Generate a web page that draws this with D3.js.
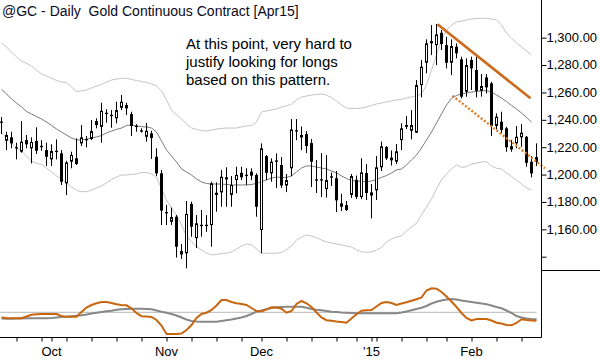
<!DOCTYPE html>
<html><head><meta charset="utf-8">
<script src="https://cdn.jsdelivr.net/npm/d3@7"></script>
<style>body{margin:0;background:#fff}svg{display:block}</style>
</head><body>
<svg id="chart" width="600" height="360"></svg>
<script>
// ---------- DATA ----------
const firstDay = "2014-09-17", lastDay = "2015-02-20";
const holidays = ["2014-11-27","2014-12-25","2015-01-01","2015-01-19","2015-02-16"];
const monthLabels = ["Oct","Nov","Dec","'15","Feb"];
const priceTicks = [1140,1160,1180,1200,1220,1240,1260,1280,1300];

const opens = [1238.6,1224.7,1227.2,1219.9,1216.7,1225.2,1219.2,1224.5,1220.8,1217.9,
1211.1,1217.6,1215.5,1193.6,1209.4,1211.9,1222.8,1226.0,1226.0,1239.1,
1234.9,1245.0,1243.5,1241.1,1248.8,1250.8,1244.2,1235.5,1232.5,1227.6,
1230.1,1213.0,1200.9,1172.6,1165.5,1169.2,1141.6,1142.5,1178.5,1153.6,
1163.1,1163.1,1163.1,1185.1,1187.0,1198.0,1185.1,1196.0,1201.3,1199.7,
1202.1,1199.7,1159.5,1213.5,1200.9,1210.3,1207.0,1192.0,1204.6,1232.2,
1228.9,1229.6,1223.0,1196.4,1196.4,1189.4,1198.9,1197.3,1176.5,1177.7,
1185.1,1196.2,1183.6,1201.1,1184.7,1188.5,1205.3,1220.1,1212.4,1209.4,
1225.2,1236.2,1232.0,1230.6,1265.4,1281.7,1297.5,1294.6,1303.6,1294.6,
1281.7,1293.4,1284.2,1260.5,1283.7,1276.4,1261.2,1271.0,1266.6,1235.5,
1238.6,1233.8,1218.4,1222.8,1227.2,1227.6,1209.4,1212.8];
const highs = [1242.0,1231.3,1231.3,1223.3,1239.1,1228.9,1227.2,1234.5,1225.2,1223.3,
1222.1,1225.7,1217.9,1210.1,1216.7,1226.5,1236.2,1228.2,1239.8,1241.1,
1252.5,1247.7,1247.1,1253.2,1258.1,1252.5,1245.9,1236.9,1233.8,1237.7,
1232.0,1219.2,1203.3,1177.7,1175.9,1170.4,1149.3,1180.7,1180.2,1170.4,
1174.1,1170.4,1194.8,1194.3,1203.3,1205.3,1198.9,1205.7,1205.7,1204.6,
1204.6,1200.9,1222.8,1214.3,1211.9,1215.5,1212.8,1200.4,1240.6,1240.6,
1235.1,1231.8,1226.0,1210.6,1215.7,1214.3,1201.5,1202.6,1186.0,1180.7,
1200.4,1199.3,1211.9,1207.7,1193.1,1213.5,1224.1,1220.8,1217.6,1222.3,
1237.4,1242.8,1247.1,1269.1,1283.7,1298.8,1309.2,1310.0,1305.6,1300.7,
1298.8,1295.9,1286.1,1284.9,1286.1,1286.1,1273.4,1273.4,1267.8,1244.7,
1245.9,1234.9,1225.2,1235.5,1236.9,1228.2,1213.5,1222.8];
const lows = [1229.6,1217.9,1219.2,1211.1,1216.0,1219.2,1208.2,1215.0,1217.4,1206.2,
1206.2,1211.1,1192.4,1185.1,1204.6,1207.0,1220.8,1219.9,1225.2,1233.8,
1223.3,1237.9,1234.2,1237.4,1247.1,1243.5,1228.2,1231.3,1230.6,1224.0,
1211.4,1198.9,1163.1,1163.1,1163.1,1139.4,1138.3,1131.5,1154.6,1146.3,
1154.6,1158.2,1147.3,1172.9,1176.5,1176.5,1176.5,1186.3,1196.0,1192.4,
1196.0,1169.2,1142.5,1196.0,1194.8,1190.2,1190.2,1187.2,1198.9,1225.2,
1217.9,1215.7,1190.9,1186.5,1183.6,1183.2,1191.7,1172.6,1173.4,1173.4,
1182.9,1182.1,1182.1,1181.4,1168.0,1181.4,1202.6,1210.6,1206.6,1207.7,
1217.9,1233.3,1225.7,1230.3,1256.4,1274.0,1287.3,1280.0,1291.0,1277.6,
1272.7,1284.9,1255.7,1256.9,1261.8,1256.4,1256.9,1259.3,1228.2,1233.0,
1230.1,1216.7,1216.7,1219.2,1220.3,1205.7,1198.0,1206.2];
const closes = [1238.2,1228.9,1222.8,1219.4,1224.0,1222.1,1223.8,1217.4,1220.5,1213.0,
1217.2,1216.5,1194.8,1208.9,1214.3,1207.7,1227.2,1225.2,1231.8,1236.2,
1246.6,1244.6,1243.1,1247.1,1253.2,1248.4,1235.5,1235.1,1231.4,1232.0,
1226.7,1200.9,1173.7,1171.9,1169.0,1147.3,1144.1,1171.2,1161.9,1164.4,
1162.8,1162.8,1193.6,1186.7,1198.4,1196.5,1192.4,1199.7,1198.0,1199.3,
1199.2,1176.5,1219.2,1201.3,1209.4,1209.6,1192.0,1196.0,1233.0,1231.8,
1227.1,1220.8,1209.4,1196.0,1196.0,1196.0,1197.8,1181.2,1179.0,1174.1,
1198.9,1183.6,1201.6,1186.5,1187.0,1205.3,1220.6,1211.9,1210.4,1217.0,
1233.8,1234.9,1236.2,1265.4,1278.8,1295.9,1295.9,1302.4,1295.4,1281.7,
1293.9,1288.6,1256.9,1280.0,1277.6,1261.2,1264.7,1263.7,1235.5,1242.3,
1232.5,1219.9,1220.8,1227.6,1230.6,1208.6,1200.9,1209.4];

const bandUpper = [1296.1,1293.2,1289.6,1285.9,1283.0,1281.2,1279.3,1276.4,1273.5,1272.0,
1270.6,1268.7,1267.6,1267.3,1264.0,1260.7,1261.1,1261.8,1263.3,1264.7,
1265.8,1267.6,1269.1,1269.8,1270.3,1270.3,1269.5,1268.7,1268.0,1267.3,
1266.2,1264.7,1261.1,1254.5,1247.2,1243.5,1240.6,1236.9,1234.0,1233.0,
1232.2,1231.8,1232.6,1233.3,1233.7,1234.0,1234.0,1234.0,1234.8,1235.5,
1235.9,1238.4,1245.7,1246.5,1247.2,1247.9,1249.4,1250.1,1251.6,1254.5,
1256.7,1257.4,1258.1,1258.5,1258.9,1258.1,1256.3,1253.8,1250.8,1248.6,
1248.3,1248.3,1248.6,1249.4,1250.5,1251.6,1252.3,1253.0,1253.8,1254.5,
1254.9,1255.9,1256.7,1257.4,1258.9,1265.4,1276.4,1287.4,1298.3,1305.6,
1309.3,1311.5,1312.2,1312.9,1313.7,1314.0,1314.2,1314.0,1313.7,1312.9,
1309.3,1303.4,1299.8,1296.1,1293.2,1290.3,1287.4];
const bandMiddle = [1262.2,1258.9,1255.2,1252.3,1249.4,1246.1,1244.3,1242.4,1240.6,1238.4,
1235.9,1233.3,1231.1,1228.9,1226.7,1225.3,1225.3,1225.8,1226.7,1227.5,
1228.5,1230.4,1231.8,1233.0,1234.0,1235.9,1236.2,1235.5,1235.0,1234.8,
1234.0,1231.1,1224.5,1218.0,1213.6,1209.2,1204.1,1201.9,1199.7,1196.8,
1194.6,1193.5,1193.1,1193.1,1193.1,1192.8,1192.4,1192.4,1192.4,1192.4,
1192.8,1193.5,1194.8,1196.1,1197.5,1198.2,1197.9,1197.9,1199.0,1201.9,
1204.8,1206.3,1206.3,1205.5,1204.8,1204.1,1202.6,1201.2,1199.0,1197.1,
1195.7,1195.3,1195.0,1194.8,1195.3,1196.4,1197.9,1199.3,1201.2,1203.4,
1204.1,1207.0,1210.7,1214.3,1219.4,1225.3,1231.1,1237.7,1244.3,1250.8,
1255.6,1257.8,1258.9,1259.6,1260.3,1260.7,1261.1,1261.3,1260.3,1258.1,
1255.9,1253.4,1250.5,1247.9,1245.0,1241.7,1238.4];
const bandLower = [1230.4,1226.7,1223.1,1219.4,1217.2,1213.6,1209.9,1208.2,1207.4,1204.8,
1201.9,1199.0,1196.8,1193.9,1190.9,1188.4,1187.5,1187.5,1188.7,1190.2,
1191.7,1193.9,1196.4,1198.2,1199.7,1199.7,1200.1,1200.4,1201.5,1201.5,
1200.4,1198.2,1189.5,1181.4,1175.6,1170.5,1163.2,1155.1,1150.8,1147.5,
1144.9,1142.7,1141.3,1141.6,1142.4,1142.5,1143.5,1145.6,1147.8,1149.3,
1148.9,1145.6,1142.5,1142.5,1142.5,1142.5,1143.1,1145.3,1147.8,1152.2,
1154.4,1155.9,1155.1,1154.0,1152.2,1150.8,1150.0,1149.3,1148.6,1147.8,
1147.1,1144.9,1143.8,1143.1,1143.5,1144.9,1146.7,1150.8,1152.9,1154.4,
1155.1,1158.8,1161.7,1164.4,1170.5,1176.3,1182.2,1189.5,1196.1,1200.4,
1204.1,1207.0,1205.2,1205.8,1207.7,1208.4,1209.2,1209.4,1206.3,1204.6,
1204.1,1201.2,1198.6,1196.1,1193.1,1190.2,1188.7];

// oscillator (arbitrary units, 0 = centre line)
const oscFast = [-5.2,-5.7,-6.0,-6.0,-6.0,-4.2,-2.5,-2.0,-1.7,-1.7,
-1.7,-1.7,-3.7,-4.4,-4.4,-4.4,0.3,4.8,7.3,9.0,
10.3,10.3,9.3,8.0,7.3,7.0,3.8,-0.7,-3.9,-4.2,
-4.7,-7.7,-13.2,-21.7,-21.7,-21.7,-21.2,-17.7,-12.7,-5.7,
-1.7,-0.4,2.3,6.8,12.3,12.3,10.3,9.0,8.3,7.3,
4.3,1.3,0.8,3.0,5.0,4.8,3.6,-0.4,1.3,8.3,
11.3,9.0,5.3,-0.2,-5.2,-7.9,-8.5,-9.2,-9.7,-10.4,
-6.2,-2.0,1.6,2.0,2.3,5.8,9.3,10.3,9.3,7.3,
8.8,10.0,11.5,13.0,14.8,21.8,24.0,23.6,20.3,15.8,
10.8,5.3,-0.7,-5.7,-8.2,-6.7,-6.7,-6.7,-8.2,-10.4,
-11.2,-12.7,-13.0,-10.7,-7.0,-7.7,-8.2,-8.4];
const oscSlow = [-6.2,-6.4,-6.4,-6.2,-6.1,-6.0,-6.0,-6.0,-6.0,-6.0,
-5.7,-5.2,-4.7,-4.4,-3.9,-3.5,-3.0,-2.2,-1.2,-0.5,
0.3,1.0,1.5,2.5,3.0,3.3,3.6,3.6,3.6,3.3,
3.0,1.8,0.5,-0.4,-1.7,-3.2,-5.2,-7.2,-8.7,-9.2,
-9.4,-9.4,-9.4,-9.4,-8.7,-8.0,-7.2,-6.2,-5.2,-3.7,
-1.7,0.6,1.8,3.0,4.3,5.0,5.3,5.6,5.6,5.6,
5.6,4.6,3.3,2.5,2.0,1.3,0.6,0.3,-0.2,-0.5,
-0.7,-1.0,-1.0,-1.0,-1.0,-1.0,-1.0,-1.0,-1.0,-1.0,
-0.2,0.8,2.0,3.3,4.6,6.3,8.8,10.6,11.8,12.8,
13.3,12.8,11.8,11.0,10.3,9.5,8.8,8.0,6.8,5.3,
4.0,1.8,-0.7,-3.7,-5.2,-6.2,-6.7,-7.0];

// trend lines: [trading-day index, price]
const trendSolid = [[87.2,1309.8],[105.8,1255.7]];
const trendDotted = [[90.2,1257.6],[108.7,1204.6]];

const titleText = "@GC - Daily  Gold Continuous Contract [Apr15]";
const noteLines = ["At this point, very hard to","justify looking for longs","based on this pattern."];

// ---------- BUILD ----------
const parse = d3.utcParse("%Y-%m-%d"), fmt = d3.utcFormat("%Y-%m-%d");
const days = d3.utcDays(parse(firstDay), d3.utcDay.offset(parse(lastDay), 1))
  .filter(d => d.getUTCDay() % 6 !== 0 && !holidays.includes(fmt(d)));

const bars = days.map((d, i) => ({i, date: d, o: opens[i], h: highs[i], l: lows[i], c: closes[i]}));

const svg = d3.select("#chart");
const axisX = 541.5, panelBottom = 337.5;

const x = d3.scaleLinear().domain([0, 107]).range([1.5, 536.5]);
const y = d3.scaleLinear().domain([1140, 1300]).range([256.7, 37.7]);
const yo = d3.scaleLinear().domain([-10, 10]).range([322.3, 302.3]);

// bands
const bandLine = d3.line().x((v, i) => x(i)).y(v => y(v));
svg.append("path").attr("d", bandLine(bandUpper)).attr("fill","none").attr("stroke","#c4c4c4").attr("stroke-width",1);
svg.append("path").attr("d", bandLine(bandLower)).attr("fill","none").attr("stroke","#c4c4c4").attr("stroke-width",1);
svg.append("path").attr("d", bandLine(bandMiddle)).attr("fill","none").attr("stroke","#7a7a7a").attr("stroke-width",1);

// candles
const cg = svg.append("g");
const cand = cg.selectAll("g").data(bars).join("g");
cand.append("line")
  .attr("x1", d => x(d.i)).attr("x2", d => x(d.i))
  .attr("y1", d => y(d.h)).attr("y2", d => y(d.l))
  .attr("stroke", "#000").attr("stroke-width", 1);
cand.each(function(d) {
  const g = d3.select(this);
  const top = y(Math.max(d.o, d.c)), bot = y(Math.min(d.o, d.c));
  const cx = x(d.i);
  if (bot - top < 1.6) {
    g.append("rect").attr("x", cx - 1.5).attr("y", (top + bot) / 2 - 0.5)
      .attr("width", 3).attr("height", 1.3).attr("fill", "#000");
  } else if (d.c > d.o) {
    g.append("rect").attr("x", cx - 1).attr("y", top + 0.5)
      .attr("width", 2).attr("height", Math.max(0.5, bot - top - 1))
      .attr("fill", "#fff").attr("stroke", "#000").attr("stroke-width", 1);
  } else {
    g.append("rect").attr("x", cx - 1.5).attr("y", top)
      .attr("width", 3).attr("height", bot - top).attr("fill", "#000");
  }
});

// trend lines
const tl = d3.line().x(p => x(p[0])).y(p => y(p[1]));
svg.append("path").attr("d", tl(trendSolid)).attr("fill","none")
  .attr("stroke","#cc6a1c").attr("stroke-width",2.6);
svg.append("path").attr("d", tl(trendDotted)).attr("fill","none")
  .attr("stroke","#e07a22").attr("stroke-width",2.4).attr("stroke-dasharray","2,2");

// oscillator
svg.append("line").attr("x1", 0).attr("x2", x(107)).attr("y1", yo(0)).attr("y2", yo(0))
  .attr("stroke", "#b8b8b8").attr("stroke-width", 1);
const oscLine = d3.line().x((v, i) => x(i)).y(v => yo(v));
svg.append("path").attr("d", oscLine(oscSlow)).attr("fill","none").attr("stroke","#888").attr("stroke-width",2);
svg.append("path").attr("d", oscLine(oscFast)).attr("fill","none").attr("stroke","#c8650f").attr("stroke-width",2);

// price axis
svg.append("line").attr("x1", axisX).attr("x2", axisX).attr("y1", 0).attr("y2", panelBottom)
  .attr("stroke", "#000").attr("stroke-width", 1);
svg.append("line").attr("x1", axisX).attr("x2", 600).attr("y1", 270.5).attr("y2", 270.5)
  .attr("stroke", "#000").attr("stroke-width", 1);
const yAxis = d3.axisRight(y).tickValues(priceTicks).tickSize(5).tickPadding(0)
  .tickFormat(v => v === 1140 ? "" : d3.format(",.2f")(v));
const ya = svg.append("g").attr("transform", `translate(${axisX},0)`).call(yAxis);
ya.select(".domain").remove();
ya.selectAll("line").attr("stroke", "#000");
ya.selectAll("text").attr("font-family", "Liberation Sans, Arial, sans-serif")
  .attr("font-size", 13).attr("fill", "#000").attr("x", 5).attr("dy", "0.3em");

// time axis
svg.append("line").attr("x1", 0).attr("x2", axisX).attr("y1", panelBottom).attr("y2", panelBottom)
  .attr("stroke", "#000").attr("stroke-width", 1);
const weekTicks = [], monthTicks = [];
bars.forEach((b, i) => {
  if (i === 0) return;
  const prev = bars[i - 1].date;
  if (d3.utcMonday.floor(b.date).getTime() !== d3.utcMonday.floor(prev).getTime()) weekTicks.push(i);
  if (b.date.getUTCMonth() !== prev.getUTCMonth()) monthTicks.push(i);
});
const allTicks = Array.from(new Set(weekTicks.concat(monthTicks))).sort((a, b) => a - b);
const xAxis = d3.axisBottom(x).tickValues(allTicks).tickSize(4).tickFormat("");
const xa = svg.append("g").attr("transform", `translate(0,${panelBottom})`).call(xAxis);
xa.select(".domain").remove();
xa.selectAll("line").attr("stroke", "#000");
svg.append("g").selectAll("text").data(monthTicks).join("text")
  .attr("x", i => x(i)).attr("y", 356)
  .attr("text-anchor", "middle")
  .attr("font-family", "Liberation Sans, Arial, sans-serif").attr("font-size", 13).attr("fill", "#000")
  .text((i, k) => monthLabels[k]);

// title & note
svg.append("text").attr("x", 2).attr("y", 16).attr("xml:space", "preserve").style("white-space", "pre")
  .attr("font-family", "Liberation Sans, Arial, sans-serif").attr("font-size", 14).attr("fill", "#0a0a1e")
  .text(titleText);
svg.append("g").selectAll("text").data(noteLines).join("text")
  .attr("x", 186).attr("y", (t, k) => 48.5 + k * 18)
  .attr("font-family", "Liberation Sans, Arial, sans-serif").attr("font-size", 15).attr("fill", "#000")
  .text(t => t);
</script>
</body></html>
